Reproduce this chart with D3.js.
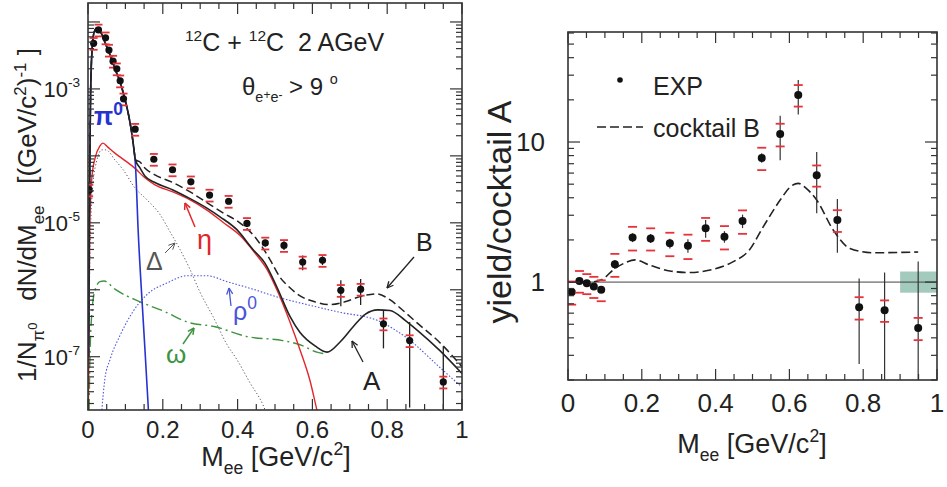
<!DOCTYPE html>
<html>
<head>
<meta charset="utf-8">
<script src="https://cdn.jsdelivr.net/npm/d3@7"></script>
<style>
  body { margin: 0; background: #fff; }
  text { font-family: "Liberation Sans", Arial, Helvetica, sans-serif; white-space: pre; }
</style>
</head>
<body>
<script>
// ---------- left panel: dN/dM spectrum ----------
const massL = [0.003, 0.015, 0.028, 0.047, 0.056, 0.067, 0.077, 0.086, 0.095, 0.126, 0.176, 0.226, 0.275,
  0.325, 0.376, 0.425, 0.474, 0.524, 0.574, 0.627, 0.676, 0.729, 0.79, 0.86, 0.95]
const yieldL = [3.1e-5, 4.8e-3, 7.6e-3, 5.8e-3, 3.8e-3, 2.6e-3, 2.0e-3, 1.32e-3, 7.1e-4, 2.5e-4, 8.9e-5, 6.2e-5, 4.1e-5,
  2.6e-5, 2.1e-5, 9.8e-6, 5.0e-6, 4.6e-6, 2.6e-6, 2.75e-6, 9.8e-7, 1.02e-6, 3.1e-7, 1.74e-7, 4.2e-8]
// relative errors
const statL = [0.3, 0.05, 0.05, 0.05, 0.05, 0.05, 0.05, 0.05, 0.05, 0.08, 0.1, 0.1, 0.1,
  0.1, 0.1, 0.12, 0.12, 0.15, 0.25, 0.15, 0.42, 0.42, 0.57, 0.9, 2.4]
const sysL = 0.2

// cocktail curves [mass, dN/dM]
const pi0Curve = [[0.0015, 1e-7], [0.003, 6.3e-6], [0.004, 2.2e-5], [0.0067, 6.9e-4], [0.0107, 3.8e-3], [0.016, 6.9e-3],
  [0.024, 8.1e-3], [0.035, 6.9e-3], [0.045, 5.0e-3], [0.059, 3.2e-3], [0.072, 2.0e-3], [0.086, 1.26e-3], [0.099, 6.9e-4],
  [0.110, 3.7e-4], [0.118, 2.0e-4], [0.123, 1.23e-4], [0.127, 7.1e-5], [0.134, 7.9e-6], [0.147, 4e-7], [0.161, 1.8e-8], [0.165, 6.3e-9]]
const etaCurve = [[0.001, 1.6e-8], [0.003, 7.1e-7], [0.005, 1.1e-5], [0.011, 5.2e-5], [0.019, 9.3e-5], [0.032, 1.41e-4],
  [0.040, 1.55e-4], [0.053, 1.35e-4], [0.072, 1.10e-4], [0.099, 8.5e-5], [0.126, 6.5e-5], [0.152, 4.7e-5], [0.179, 3.7e-5],
  [0.227, 2.9e-5], [0.273, 2.2e-5], [0.318, 1.55e-5], [0.361, 1.02e-5], [0.406, 6.5e-6], [0.447, 3.5e-6], [0.479, 2.0e-6],
  [0.505, 1.0e-6], [0.540, 3.3e-7], [0.567, 1.26e-7], [0.594, 4.3e-8], [0.612, 1.6e-8], [0.625, 8e-9]]
const deltaCurve = [[0.0013, 1.6e-8], [0.005, 2.8e-6], [0.013, 3.7e-5], [0.024, 8.7e-5], [0.037, 1.23e-4], [0.048, 1.23e-4],
  [0.072, 8.7e-5], [0.094, 6.2e-5], [0.126, 3.3e-5], [0.158, 2.2e-5], [0.193, 1.32e-5], [0.219, 7.4e-6], [0.246, 4.0e-6],
  [0.273, 2.0e-6], [0.299, 9.3e-7], [0.334, 4.0e-7], [0.372, 1.51e-7], [0.398, 9.1e-8], [0.433, 4.1e-8], [0.468, 1.9e-8], [0.48, 1.3e-8]]
const rhoCurve = [[0.037, 1.6e-8], [0.045, 4.6e-8], [0.059, 9.1e-8], [0.086, 2.1e-7], [0.120, 4.7e-7], [0.158, 8.5e-7],
  [0.211, 1.26e-6], [0.265, 1.62e-6], [0.318, 1.62e-6], [0.372, 1.32e-6], [0.441, 1.02e-6], [0.513, 7.6e-7], [0.586, 6.0e-7],
  [0.674, 4.6e-7], [0.773, 3.5e-7], [0.853, 1.9e-7], [0.941, 6.9e-8], [1.0, 3.5e-8]]
const omegaCurve = [[0.003, 1.6e-8], [0.005, 9.1e-8], [0.011, 5.0e-7], [0.019, 1.0e-6], [0.032, 1.32e-6], [0.043, 1.35e-6],
  [0.072, 1.02e-6], [0.139, 6.6e-7], [0.206, 4.7e-7], [0.265, 3.3e-7], [0.340, 2.8e-7], [0.425, 2.0e-7], [0.521, 1.74e-7],
  [0.567, 1.51e-7], [0.612, 1.17e-7], [0.639, 1.10e-7]]
const lowMassTotal = pi0Curve.slice(0, 16)
const cocktailA = lowMassTotal.concat([[0.127, 8.7e-5], [0.139, 6.6e-5], [0.152, 5.0e-5], [0.179, 4.0e-5], [0.227, 3.1e-5],
  [0.273, 2.3e-5], [0.318, 1.66e-5], [0.353, 1.23e-5], [0.398, 7.9e-6], [0.441, 4.0e-6], [0.473, 2.5e-6], [0.505, 1.10e-6],
  [0.540, 4.0e-7], [0.567, 2.3e-7], [0.607, 1.45e-7], [0.639, 1.17e-7], [0.674, 1.66e-7], [0.709, 2.8e-7], [0.741, 4.3e-7],
  [0.775, 5.0e-7], [0.807, 4.9e-7], [0.848, 3.5e-7], [0.880, 2.5e-7], [0.941, 1.23e-7], [1.0, 5.6e-8]])
const cocktailB = lowMassTotal.concat([[0.127, 8.7e-5], [0.139, 8.1e-5], [0.152, 6.6e-5], [0.179, 5.2e-5], [0.227, 4.0e-5],
  [0.273, 2.9e-5], [0.318, 2.0e-5], [0.361, 1.41e-5], [0.406, 1.0e-5], [0.452, 5.6e-6], [0.487, 2.8e-6], [0.513, 1.55e-6],
  [0.540, 1.07e-6], [0.567, 8.1e-7], [0.607, 6.6e-7], [0.647, 6.0e-7], [0.687, 6.6e-7], [0.727, 7.9e-7], [0.773, 8.7e-7],
  [0.807, 7.1e-7], [0.848, 4.6e-7], [0.880, 3.2e-7], [0.941, 1.62e-7], [1.0, 7.1e-8]])

// ---------- right panel: ratio to cocktail A ----------
const massR = [0.010, 0.031, 0.051, 0.070, 0.090, 0.127, 0.175, 0.224, 0.276, 0.325, 0.373, 0.424, 0.473,
  0.525, 0.575, 0.624, 0.674, 0.730, 0.789, 0.858, 0.949]
const ratioR = [0.85, 1.02, 0.98, 0.93, 0.88, 1.34, 2.08, 2.05, 1.89, 1.82, 2.42, 2.11, 2.73,
  7.7, 11.4, 21.7, 5.8, 2.77, 0.66, 0.63, 0.47]
const statR = [0.03, 0.03, 0.03, 0.03, 0.03, 0.1, 0.15, 0.15, 0.15, 0.2, 0.35, 0.2, 0.3,
  0.6, 4.0, 6.0, 2.7, 1.15, 0.40, 0.54, 0.93]
const sysR = [0.16, 0.18, 0.16, 0.16, 0.15, 0.25, 0.4, 0.37, 0.36, 0.36, 0.45, 0.4, 0.52,
  1.4, 2.1, 3.8, 1.0, 0.49, 0.12, 0.11, 0.085]
const massB = [0, 0.06, 0.091, 0.127, 0.154, 0.182, 0.222, 0.276, 0.331, 0.385, 0.448, 0.491, 0.529, 0.575,
  0.602, 0.624, 0.645, 0.674, 0.719, 0.764, 0.827, 0.949]
const ratioB = [1.0, 1.0, 1.04, 1.25, 1.37, 1.44, 1.32, 1.20, 1.17, 1.22, 1.40, 1.69, 2.48, 3.85,
  4.77, 5.07, 4.69, 3.85, 2.35, 1.74, 1.62, 1.64]
const normBand = [0.9, 1.0, 0.84, 1.19]   // x0, x1, lo, hi

const xMajor = [0, 0.2, 0.4, 0.6, 0.8, 1]
const xTickLabels = ['0', '0.2', '0.4', '0.6', '0.8', '1']
const yLabelExpL = [-3, -5, -7]
const yLabelR = [1, 10]

const W = 947, H = 487
const svg = d3.select('body').append('svg').attr('width', W).attr('height', H)

const xL = d3.scaleLinear().domain([0, 1]).range([88, 462])
const yL = d3.scaleLog().domain([1.6e-8, 1.92e-2]).range([410, 3])
const xR = d3.scaleLinear().domain([0, 1]).range([568, 937])
const yR = d3.scaleLog().domain([0.2, 61]).range([380, 32])

// text with sub / superscripts: parts = [text, shift (em), scale]
function rich(sel, parts, size) {
  let cur = 0
  parts.forEach(([t, shift, scale]) => {
    const s = (shift || 0) * size
    sel.append('tspan').attr('dy', s - cur).attr('font-size', size * (scale || 1)).text(t)
    cur = s
  })
  return sel
}

function arrow(g, x1, y1, x2, y2, color, w) {
  g.append('line').attr('x1', x1).attr('y1', y1).attr('x2', x2).attr('y2', y2)
    .attr('stroke', color).attr('stroke-width', w || 1.2)
  const a = Math.atan2(y2 - y1, x2 - x1), len = 7
  ;[-0.45, 0.45].forEach(d => {
    g.append('line').attr('x1', x2).attr('y1', y2)
      .attr('x2', x2 - len * Math.cos(a + d)).attr('y2', y2 - len * Math.sin(a + d))
      .attr('stroke', color).attr('stroke-width', w || 1.2)
  })
}

function frame(g, x, y, yMajor, yMinor) {
  const [x0, x1] = x.range(), [y0, y1] = y.range()
  const tk = (a, b, c, d) => g.append('line').attr('x1', a).attr('y1', b).attr('x2', c).attr('y2', d)
    .attr('stroke', '#333').attr('stroke-width', 1.2)
  d3.range(0, 1.0001, 0.05).forEach(v => {
    const L = xMajor.some(m => Math.abs(m - v) < 1e-6) ? 11 : 6
    tk(x(v), y0, x(v), y0 - L)
    tk(x(v), y1, x(v), y1 + L)
  })
  yMajor.forEach(v => { tk(x0, y(v), x0 + 12, y(v)); tk(x1, y(v), x1 - 12, y(v)) })
  yMinor.forEach(v => { tk(x0, y(v), x0 + 6, y(v)); tk(x1, y(v), x1 - 6, y(v)) })
  g.append('rect').attr('x', x0).attr('y', y1).attr('width', x1 - x0).attr('height', y0 - y1)
    .attr('fill', 'none').attr('stroke', '#333').attr('stroke-width', 1.6)
}

function logTicks(scale) {
  const [lo, hi] = scale.domain(), major = [], minor = []
  for (let e = Math.floor(Math.log10(lo)); e <= Math.ceil(Math.log10(hi)); e++) {
    for (let k = 1; k <= 9; k++) {
      const v = k * Math.pow(10, e)
      if (v < lo || v > hi) continue
      if (k === 1) major.push(v); else minor.push(v)
    }
  }
  return [major, minor]
}

// ======= LEFT =======
const gl = svg.append('g')
svg.append('clipPath').attr('id', 'clipL').append('rect')
  .attr('x', 88).attr('y', 3).attr('width', 374).attr('height', 407)
const plotL = gl.append('g').attr('clip-path', 'url(#clipL)')
const lineL = d3.line().x(d => xL(d[0])).y(d => yL(d[1])).curve(d3.curveMonotoneX)

const curves = [
  { data: deltaCurve, color: '#555', width: 1, dash: '1.2,2.2' },
  { data: rhoCurve, color: '#4a55d8', width: 1.1, dash: '1.5,1.8' },
  { data: omegaCurve, color: '#3d9440', width: 1.4, dash: '11,4,2,4' },
  { data: etaCurve, color: '#e3262b', width: 1.4, dash: null },
  { data: pi0Curve, color: '#2733cf', width: 1.6, dash: null },
  { data: cocktailB, color: '#222', width: 1.5, dash: '8,4' },
  { data: cocktailA, color: '#222', width: 1.6, dash: null }
]
curves.forEach(c => {
  plotL.append('path').attr('d', lineL(c.data)).attr('fill', 'none')
    .attr('stroke', c.color).attr('stroke-width', c.width).attr('stroke-dasharray', c.dash)
})

// error bars + points
massL.forEach((m, i) => {
  const v = yieldL[i], x = xL(m)
  const lo = Math.max(v * (1 - statL[i]), 1e-9), hi = v * (1 + statL[i])
  plotL.append('line').attr('x1', x).attr('x2', x).attr('y1', yL(lo)).attr('y2', yL(hi))
    .attr('stroke', '#222').attr('stroke-width', 1.3)
  ;[v * (1 - sysL), v * (1 + sysL)].forEach(s => {
    plotL.append('line').attr('x1', x - 4).attr('x2', x + 4).attr('y1', yL(s)).attr('y2', yL(s))
      .attr('stroke', '#e8323a').attr('stroke-width', 1.8)
  })
  plotL.append('circle').attr('cx', x).attr('cy', yL(v)).attr('r', 3.6).attr('fill', '#111')
})

const [majL, minL] = logTicks(yL)
frame(gl, xL, yL, majL, minL)

xMajor.forEach((v, i) => {
  gl.append('text').attr('x', xL(v)).attr('y', 438).attr('text-anchor', 'middle')
    .attr('font-size', 24).attr('fill', '#222').text(xTickLabels[i])
})
yLabelExpL.forEach(e => {
  const t = gl.append('text').attr('x', 80).attr('y', yL(Math.pow(10, e)) + 8)
    .attr('text-anchor', 'end').attr('fill', '#222')
  rich(t, [['10', 0, 1], [String(e), -0.45, 0.62]], 22)
})
rich(gl.append('text').attr('x', 276).attr('y', 466).attr('text-anchor', 'middle').attr('fill', '#222'),
  [['M', 0, 1], ['ee', 0.3, 0.65], [' [GeV/c', 0, 1], ['2', -0.4, 0.65], [']', 0, 1]], 27)
rich(gl.append('text').attr('transform', 'translate(36,215) rotate(-90)').attr('text-anchor', 'middle').attr('fill', '#222'),
  [['1/N', 0, 1], ['π', 0.3, 0.65], ['0', 0.05, 0.5], ['   dN/dM', 0, 1], ['ee', 0.3, 0.65], ['   [(GeV/c', 0, 1],
   ['2', -0.4, 0.65], [')', 0, 1], ['-1', -0.4, 0.65], [' ]', 0, 1]], 26)

// title
rich(gl.append('text').attr('x', 185).attr('y', 51).attr('fill', '#222'),
  [['12', -0.4, 0.62], ['C + ', 0, 1], ['12', -0.4, 0.62], ['C  2 AGeV', 0, 1]], 25)
rich(gl.append('text').attr('x', 242).attr('y', 95).attr('fill', '#222'),
  [['θ', 0, 1], ['e', 0.28, 0.6], ['+', 0.15, 0.5], ['e', 0.28, 0.6], ['-', 0.15, 0.5], [' > 9 ', 0, 1], ['o', -0.45, 0.6]], 24)

// curve labels
rich(gl.append('text').attr('x', 94).attr('y', 125).attr('fill', '#2733cf'),
  [['π', 0, 1], ['0', -0.4, 0.7]], 25).attr('font-weight', 'bold')
gl.append('text').attr('x', 197).attr('y', 249).attr('font-size', 27).attr('fill', '#e3262b').text('η')
arrow(gl, 195, 227, 185, 203, '#e3262b', 1.5)
gl.append('text').attr('x', 146).attr('y', 270).attr('font-size', 25).attr('fill', '#555').text('Δ')
arrow(gl, 165, 253, 175, 243, '#555', 1)
rich(gl.append('text').attr('x', 233).attr('y', 320).attr('fill', '#4a55d8'),
  [['ρ', 0, 1], ['0', -0.45, 0.7]], 25)
arrow(gl, 231, 306, 229, 288, '#4a55d8', 1.3)
gl.append('text').attr('x', 166).attr('y', 363).attr('font-size', 26).attr('fill', '#3d9440').text('ω')
arrow(gl, 183, 344, 194, 328, '#3d9440', 1.5)
gl.append('text').attr('x', 363).attr('y', 390).attr('font-size', 26).attr('fill', '#222').text('A')
arrow(gl, 363, 362, 352, 341, '#222', 1.3)
gl.append('text').attr('x', 416).attr('y', 251).attr('font-size', 25).attr('fill', '#222').text('B')
arrow(gl, 414, 257, 387, 288, '#222', 1.3)

// ======= RIGHT =======
const gr = svg.append('g')
svg.append('clipPath').attr('id', 'clipR').append('rect')
  .attr('x', 568).attr('y', 32).attr('width', 369).attr('height', 348)
const plotR = gr.append('g').attr('clip-path', 'url(#clipR)')

plotR.append('rect').attr('x', xR(normBand[0])).attr('width', xR(normBand[1]) - xR(normBand[0]))
  .attr('y', yR(normBand[3])).attr('height', yR(normBand[2]) - yR(normBand[3]))
  .attr('fill', '#93c2b2').attr('opacity', 0.85)
plotR.append('line').attr('x1', 568).attr('x2', 937).attr('y1', yR(1)).attr('y2', yR(1))
  .attr('stroke', '#444').attr('stroke-width', 1)

const lineR = d3.line().x((d, i) => xR(massB[i])).y(d => yR(d)).curve(d3.curveMonotoneX)
plotR.append('path').attr('d', lineR(ratioB)).attr('fill', 'none')
  .attr('stroke', '#222').attr('stroke-width', 1.6).attr('stroke-dasharray', '9,4')

massR.forEach((m, i) => {
  const v = ratioR[i], x = xR(m)
  const lo = Math.max(v - statR[i], 0.05), hi = v + statR[i]
  plotR.append('line').attr('x1', x).attr('x2', x).attr('y1', yR(lo)).attr('y2', yR(hi))
    .attr('stroke', '#333').attr('stroke-width', 1.2)
  ;[v - sysR[i], v + sysR[i]].forEach(s => {
    plotR.append('line').attr('x1', x - 4.5).attr('x2', x + 4.5).attr('y1', yR(s)).attr('y2', yR(s))
      .attr('stroke', '#e8323a').attr('stroke-width', 1.8)
  })
  plotR.append('circle').attr('cx', x).attr('cy', yR(v)).attr('r', 4).attr('fill', '#111')
})

const [majR, minR] = logTicks(yR)
frame(gr, xR, yR, majR, minR)

xMajor.forEach((v, i) => {
  gr.append('text').attr('x', xR(v)).attr('y', 412).attr('text-anchor', 'middle')
    .attr('font-size', 26).attr('fill', '#222').text(xTickLabels[i])
})
yLabelR.forEach(v => {
  gr.append('text').attr('x', 545).attr('y', yR(v) + 9).attr('text-anchor', 'end')
    .attr('font-size', 26).attr('fill', '#222').text(String(v))
})
rich(gr.append('text').attr('x', 752).attr('y', 453).attr('text-anchor', 'middle').attr('fill', '#222'),
  [['M', 0, 1], ['ee', 0.3, 0.65], [' [GeV/c', 0, 1], ['2', -0.4, 0.65], [']', 0, 1]], 27)
gr.append('text').attr('transform', 'translate(511,212) rotate(-90)').attr('text-anchor', 'middle')
  .attr('font-size', 34).attr('fill', '#222').text('yield/cocktail A')

// legend
gr.append('circle').attr('cx', 620).attr('cy', 80).attr('r', 2.8).attr('fill', '#111')
gr.append('text').attr('x', 653).attr('y', 95).attr('font-size', 25).attr('fill', '#222').text('EXP')
gr.append('line').attr('x1', 597).attr('x2', 643).attr('y1', 127).attr('y2', 127)
  .attr('stroke', '#222').attr('stroke-width', 1.6).attr('stroke-dasharray', '9,4')
gr.append('text').attr('x', 653).attr('y', 137).attr('font-size', 25).attr('fill', '#222').text('cocktail B')
</script>
</body>
</html>
